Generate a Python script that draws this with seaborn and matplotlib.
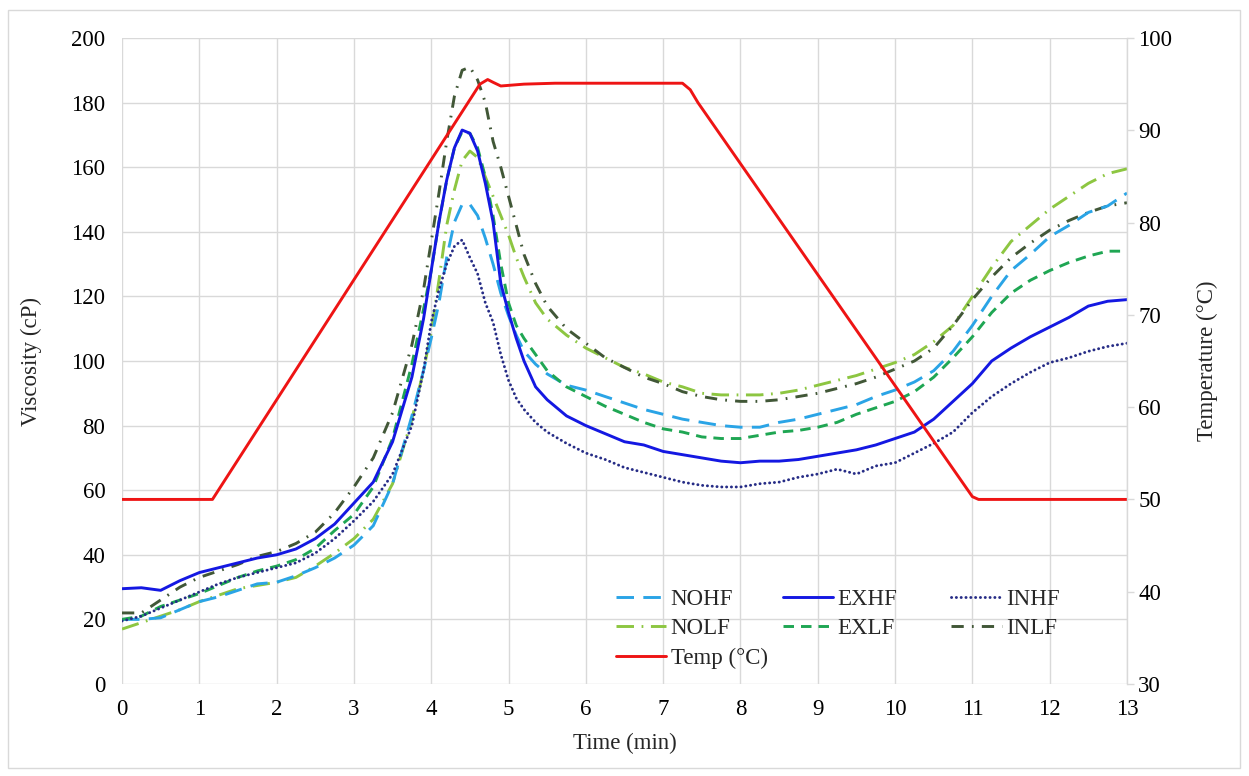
import numpy as np
import pandas as pd
import matplotlib
matplotlib.use("Agg")
import matplotlib.pyplot as plt
import seaborn as sns

# ---------------- data ----------------
time = [0, 0.25, 0.5, 0.75, 1, 1.25, 1.5, 1.75, 2, 2.25, 2.5, 2.75, 3, 3.25, 3.5,
        3.75, 3.9, 4.0, 4.1, 4.2, 4.3, 4.4, 4.5, 4.6, 4.7, 4.8, 4.9, 5.0, 5.1, 5.2,
        5.35, 5.5, 5.75, 6, 6.25, 6.5, 6.75, 7, 7.25, 7.5, 7.75, 8, 8.25, 8.5, 8.75,
        9, 9.25, 9.5, 9.75, 10, 10.25, 10.5, 10.75, 11, 11.25, 11.5, 11.75, 12,
        12.25, 12.5, 12.75, 13]

nohf = [20, 20, 20.5, 23, 25.5, 27, 29, 31, 31.5, 33.5, 36, 39, 43, 49, 62,
        83, 97, 107, 118, 132, 143, 148.5, 148.5, 145, 138, 130, 121, 114, 108, 103,
        99, 96, 92.5, 91, 89, 87, 85, 83.5, 82, 81, 80, 79.5, 79.5, 81, 82,
        83.5, 85, 86.5, 89, 91, 93.5, 97, 103, 111, 120, 128, 133, 138.5,
        142, 146, 148, 152]

exhf = [29.5, 29.8, 29, 32, 34.5, 36, 37.5, 39, 40, 41.8, 45, 49.5, 56, 62.5, 75,
        95, 113, 128, 143, 156, 166, 171.5, 170.5, 165, 155, 143, 124, 115, 107, 100,
        92, 88, 83, 80, 77.5, 75, 74, 72, 71, 70, 69, 68.5, 69, 69, 69.5,
        70.5, 71.5, 72.5, 74, 76, 78, 82, 87.5, 93, 100, 104, 107.5, 110.5,
        113.5, 117, 118.5, 119]

inhf = [19.5, 21, 23.5, 26, 28.5, 31, 33, 34.5, 36, 37.5, 40.5, 45, 50.5, 56.5, 65,
        80, 97, 112, 122, 130, 135.5, 137.5, 132, 127, 118, 112, 102, 94, 88.5, 85,
        81, 78, 74.5, 71.5, 69.5, 67, 65.5, 64, 62.5, 61.5, 61, 61, 62, 62.5, 64,
        65, 66.5, 65, 67.5, 68.5, 71.5, 74.5, 78, 84, 89, 93, 96.5, 99.5,
        101, 103, 104.5, 105.5]

nolf = [17, 19, 21, 23, 25.5, 27.5, 29.5, 30.5, 31.5, 33, 36.5, 40.5, 45, 51, 62,
        82, 97, 109, 125, 142, 153, 162, 165, 163, 157, 151, 145, 139, 132, 126,
        118, 113, 108, 104, 101, 98, 96, 93.5, 92, 90, 89.5, 89.5, 89.5, 90, 91,
        92.5, 94, 95.5, 97.5, 99.5, 102, 106, 111, 120, 129, 137, 142, 147,
        151, 155, 158, 159.5]

exlf = [20, 21, 24, 26, 28, 30.5, 33, 35, 36.5, 38.5, 42, 47.5, 52.5, 61, 76,
        99, 116, 128, 143, 156, 166, 171, 170.5, 166, 157, 145, 130, 118, 111, 107,
        102, 97, 92, 89, 86, 83.5, 81, 79, 78, 76.5, 76, 76, 77, 78, 78.5,
        79.5, 81, 83.5, 85.5, 87.5, 90.5, 95, 101, 107.5, 115, 121, 125, 128,
        130.5, 132.5, 134, 134]

inlf = [22, 22, 26, 30, 33, 35, 37, 39.5, 41, 43.5, 47, 53, 61, 70, 84,
        105, 122, 137, 152, 168, 182, 190, 191, 187, 180, 168, 160, 151, 142, 133,
        124, 117, 110, 105.5, 101, 98, 95, 93, 90.5, 89, 88, 87.5, 87.5, 88, 89,
        90, 91.5, 93, 95, 97.5, 100, 104, 111, 119, 126, 132, 136.5, 140.5,
        143.5, 146, 148, 149]

temp_time = [0, 1.12, 1.17, 4.63, 4.73, 4.8, 4.9, 5.2, 5.6, 7.25, 7.35, 7.45, 11.0, 11.08, 13]
temp_vals = [50, 50, 50, 95.0, 95.5, 95.2, 94.8, 95.0, 95.1, 95.1, 94.4, 93.0, 50.3, 50, 50]

x_ticks = list(range(0, 14))
visc_ticks = list(range(0, 201, 20))
temp_ticks = list(range(30, 101, 10))

# ---------------- styling ----------------
sns.set_theme(style="white")
plt.rcParams['font.family'] = ['Liberation Serif', 'DejaVu Serif']
FS = 16.5

fig = plt.figure(figsize=(12.49, 7.76), dpi=100)
ax = fig.add_axes([122/1249, 1-684/776, (1127-122)/1249, (684-38)/776])
ax2 = ax.twinx()

df = pd.DataFrame({"time": time, "NOHF": nohf, "EXHF": exhf, "INHF": inhf,
                   "NOLF": nolf, "EXLF": exlf, "INLF": inlf})
tdf = pd.DataFrame({"time": temp_time, "temp": temp_vals})

styles = {
    "NOHF": dict(color="#2AA4E6", ls=(0, (6.0, 3.2))),
    "EXHF": dict(color="#1418E2", ls="-"),
    "INHF": dict(color="#262C86", ls=(0, (0.05, 1.6))),
    "NOLF": dict(color="#8DC641", ls=(0, (6.0, 2.6, 0.6, 2.6))),
    "EXLF": dict(color="#1FA653", ls=(0, (3.6, 2.4))),
    "INLF": dict(color="#415737", ls=(0, (4.2, 2.8, 0.6, 2.8))),
}

handles = {}
for name in ["NOLF", "INLF", "NOHF", "EXLF", "INHF", "EXHF"]:
    st = styles[name]
    sns.lineplot(data=df, x="time", y=name, ax=ax, color=st["color"],
                 linewidth=2.1, errorbar=None, label=name)
    line = ax.lines[-1]
    line.set_linestyle(st["ls"])
    line.set_dash_capstyle("round" if name == "INHF" else "butt")
    handles[name] = line

sns.lineplot(data=tdf, x="time", y="temp", ax=ax2, color="#EE1414",
             linewidth=2.1, errorbar=None, label="Temp (°C)")
handles["Temp"] = ax2.lines[-1]

ax.set_xlim(0, 13)
ax.set_ylim(0, 200)
ax2.set_ylim(30, 100)
ax.set_xticks(x_ticks)
ax.set_yticks(visc_ticks)
ax2.set_yticks(temp_ticks)

ax.grid(True, color="#D9D9D9", linewidth=1.0)
ax.set_axisbelow(True)
for sp in ax.spines.values():
    sp.set_visible(False)
for sp in ax2.spines.values():
    sp.set_visible(False)
ax2.spines["right"].set_visible(True)
ax2.spines["right"].set_color("#D9D9D9")
ax2.spines["right"].set_linewidth(1.0)

ax.tick_params(axis="y", length=0, labelsize=FS, pad=12, colors="black")
ax.tick_params(axis="x", length=0, labelsize=FS, pad=11, colors="black")
ax2.tick_params(axis="y", length=5, width=1.0, color="#D9D9D9", labelsize=FS, pad=3,
                labelcolor="black")

ax.set_xlabel("Time (min)", fontsize=FS, labelpad=9)
ax.set_ylabel("Viscosity (cP)", fontsize=FS, labelpad=21)
ax2.set_ylabel("Temperature (°C)", fontsize=FS, labelpad=18)

if ax.get_legend() is not None:
    ax.get_legend().remove()
if ax2.get_legend() is not None:
    ax2.get_legend().remove()

leg_kw = dict(frameon=False, fontsize=FS, handlelength=2.2, handletextpad=0.18,
              labelspacing=0.36, borderpad=0, borderaxespad=0,
              bbox_transform=fig.transFigure, loc="upper left")
col1 = ["NOHF", "NOLF", "Temp"]
leg1 = ax2.legend([handles[k] for k in col1], ["NOHF", "NOLF", "Temp (°C)"],
                  bbox_to_anchor=(616/1249, 1-589/776), **leg_kw)
ax2.add_artist(leg1)
col23 = ["EXHF", "EXLF", "INHF", "INLF"]
leg2 = ax2.legend([handles[k] for k in col23], col23, ncol=2, columnspacing=2.35,
                  bbox_to_anchor=(783/1249, 1-589/776), **leg_kw)

# outer figure border
fig.patches.append(plt.Rectangle((8/1249, 8/776), 1232/1249, 758/776,
                                 transform=fig.transFigure, fill=False,
                                 edgecolor="#D9D9D9", linewidth=1.0))

fig.savefig("out.png", dpi=100, facecolor="white")
